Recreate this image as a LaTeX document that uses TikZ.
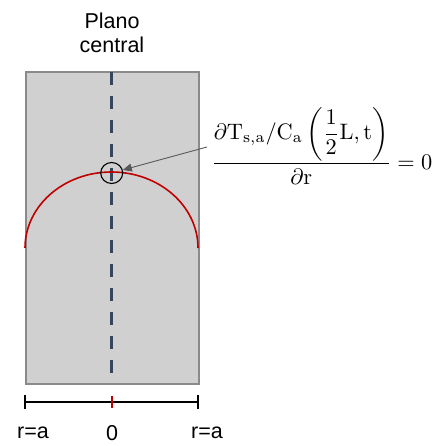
\documentclass[tikz,border=0pt]{standalone}
\usepackage{amsmath}
\usepackage{graphicx}
\usepackage{fontspec}
\newfontfamily\arialfont{Liberation Sans}
\usetikzlibrary{arrows.meta,shapes.geometric}
\definecolor{boxfill}{HTML}{D0D0D0}
\definecolor{boxedge}{HTML}{8A8A8A}
\definecolor{dashcol}{HTML}{36455A}
\definecolor{curvered}{HTML}{C00000}
\begin{document}
\begin{tikzpicture}[x=1pt,y=-1pt,
  lbl/.style={font=\arialfont\fontsize{21.5}{25.5}\selectfont, inner sep=0pt},
  eq/.style={inner sep=0pt},
  scalebar/.style={line width=1.3pt, black},
]
\useasboundingbox (0,0) rectangle (435,446);
% box
\node[draw=boxedge, line width=1.6pt, fill=boxfill, minimum width=173pt, minimum height=312pt, inner sep=0pt, anchor=north west] (box) at (25,71) {};
% dashed central line
\coordinate (dtop) at (111.7,72);
\coordinate (dbot) at (111.7,380);
\draw[dashcol, line width=3pt, dash pattern=on 13pt off 11pt] (dtop) -- (dbot);
% red curve
\draw[curvered, line width=1.6pt] (25,248) .. controls (25,206) and (63.7,172) .. (111.5,172) .. controls (159.3,172) and (198,206) .. (198,248);
% circle marker
\node[draw, ellipse, line width=1.1pt, minimum width=22pt, minimum height=21pt, inner sep=0pt] (circ) at (111.7,173) {};
% title
\node[lbl, align=center] (title) at (112,33) {Plano\\[-1pt]central};
% equation
\node[eq, anchor=west] (eqn) at (211,146) {\resizebox{221pt}{!}{$\displaystyle\frac{\partial\mathrm{T}_{\mathrm{s,a}}/\mathrm{C}_{\mathrm{a}}\left(\dfrac{1}{2}\mathrm{L},\mathrm{t}\right)}{\partial\mathrm{r}} = 0$}};
\coordinate (tail) at (207,147);
\draw[gray!70!black, line width=0.9pt, -{Triangle[length=9pt,width=8pt]}] (tail) -- (circ);
% scale bar
\coordinate (sl) at (25,402);
\coordinate (sr) at (198,402);
\coordinate (sm) at (111.7,402);
\draw[scalebar] (sl) -- (sr);
\draw[scalebar] ([yshift=-7pt]sl) -- ([yshift=7pt]sl);
\draw[scalebar] ([yshift=-7pt]sr) -- ([yshift=7pt]sr);
\draw[curvered, line width=1.6pt] ([yshift=-6pt]sm) -- ([yshift=6pt]sm);
\node[lbl] (ra1) at (33,433) {r=a};
\node[lbl] (zero) at (112,433) {0};
\node[lbl] (ra2) at (207,433) {r=a};
\end{tikzpicture}
\end{document}
